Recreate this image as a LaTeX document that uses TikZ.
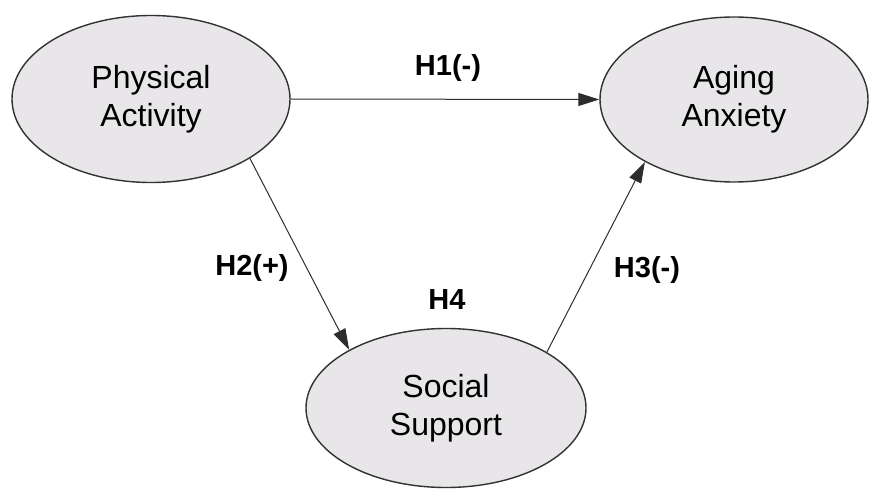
\documentclass[tikz,border=0pt]{standalone}
\usepackage{fontspec}
\setmainfont{Liberation Sans}
\usetikzlibrary{shapes.geometric,arrows.meta}
\definecolor{ellfill}{RGB}{232,230,233}
\definecolor{ellline}{RGB}{50,50,50}
\definecolor{arrline}{RGB}{45,45,45}
\tikzset{
  construct/.style={ellipse, draw=ellline, line width=1.4pt, fill=ellfill, inner sep=0pt,
    align=center, font=\fontsize{32}{38}\selectfont},
  path arrow/.style={draw=arrline, line width=1pt, -{Triangle[length=21pt,width=13pt]}},
  hyp/.style={font=\bfseries\fontsize{29}{32}\selectfont, inner sep=0pt}
}
\begin{document}
\begin{tikzpicture}[x=1pt,y=-1pt]
\useasboundingbox (0,0) rectangle (869,489);
\node[construct, minimum width=278pt, minimum height=167pt] (PA) at (151,99) {Physical\\Activity};
\node[construct, minimum width=268pt, minimum height=165pt] (AA) at (734,99.5) {Aging\\Anxiety};
\node[construct, minimum width=280pt, minimum height=159pt] (SS) at (446,408) {Social\\Support};
\draw[path arrow] (PA.east) -- (AA.west);
\draw[path arrow] (PA.-31.6) -- (SS.149.6);
\draw[path arrow] (SS.29.5) -- (AA.-145.2);
\node[hyp] (h1) at (448,68) {H1(-)};
\node[hyp] (h2) at (252,268) {H2(+)};
\node[hyp] (h3) at (647,270) {H3(-)};
\node[hyp] (h4) at (447,300) {H4};
\end{tikzpicture}
\end{document}
